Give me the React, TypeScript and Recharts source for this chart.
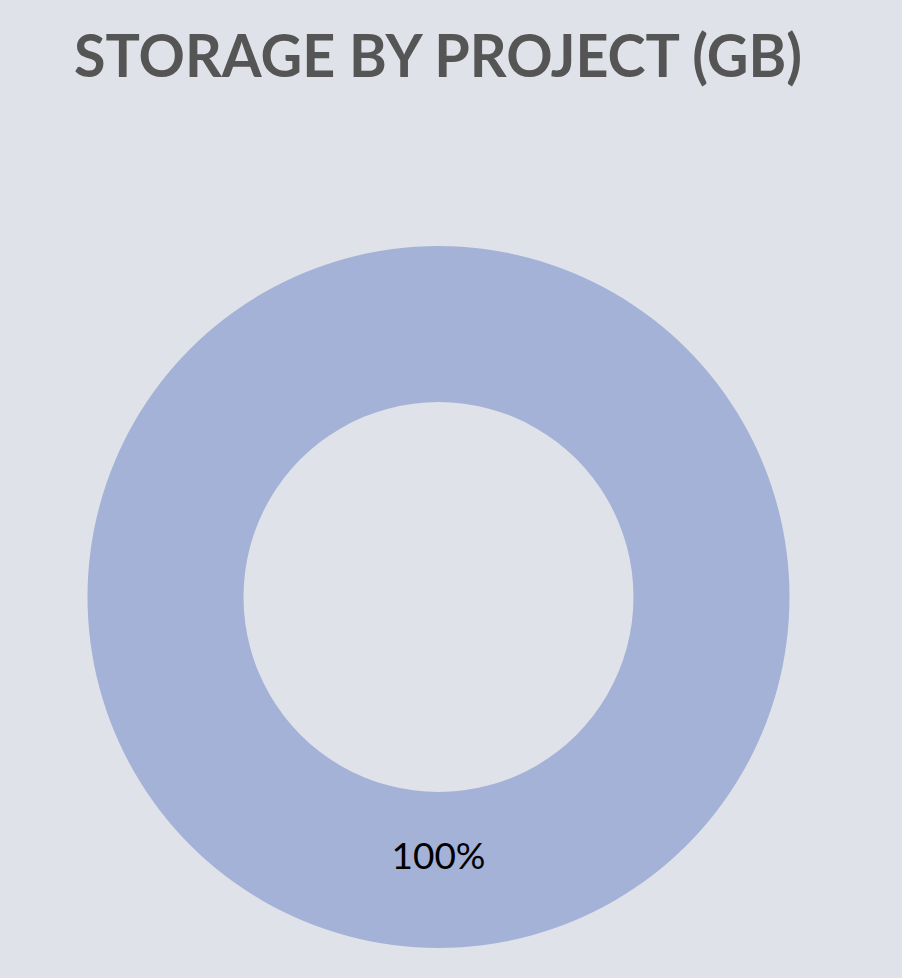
import React from "react";
import { PieChart, Pie, Cell } from "recharts";

const projects = ["Project A"];
const storageGb = [100];
const colors = ["#a4b2d7"];
const titleText = "STORAGE BY PROJECT (GB)";

const data = projects.map((name, i) => ({ name, value: storageGb[i] }));
const total = storageGb.reduce((a, b) => a + b, 0);

const RAD = Math.PI / 180;

const renderLabel = (props: any) => {
  const { cx, cy, innerRadius, outerRadius, midAngle, value } = props;
  const r = (innerRadius + outerRadius) / 2;
  const x = cx + r * Math.cos(-midAngle * RAD);
  const y = cy + r * Math.sin(-midAngle * RAD);
  return (
    <text
      x={x}
      y={y - 16}
      textAnchor="middle"
      dominantBaseline="central"
      fill="#000000"
      fontFamily="Lato, sans-serif"
      fontSize={37}
    >
      {`${Math.round((value / total) * 100)}%`}
    </text>
  );
};

export default function App() {
  return (
    <div
      style={{
        position: "absolute",
        left: 0,
        top: 0,
        width: 902,
        height: 978,
        background: "#dfe2e8",
        overflow: "hidden",
      }}
    >
      <svg
        width={902}
        height={100}
        style={{ position: "absolute", left: 0, top: 0 }}
      >
        <text
          x={74}
          y={77}
          fill="#555555"
          fontFamily="Lato, sans-serif"
          fontWeight={700}
          fontSize={60}
          textLength={728}
          lengthAdjust="spacingAndGlyphs"
        >
          {titleText}
        </text>
      </svg>
      <div style={{ position: "absolute", left: 0, top: 0 }}>
        <PieChart width={902} height={978} margin={{ top: 0, right: 0, bottom: 0, left: 0 }}>
          <Pie
            data={data}
            dataKey="value"
            nameKey="name"
            cx={438.5}
            cy={597}
            innerRadius={195}
            outerRadius={351}
            startAngle={90}
            endAngle={-270}
            stroke="none"
            label={renderLabel}
            labelLine={false}
            isAnimationActive={false}
          >
            {data.map((d, i) => (
              <Cell key={d.name} fill={colors[i % colors.length]} />
            ))}
          </Pie>
        </PieChart>
      </div>
    </div>
  );
}
